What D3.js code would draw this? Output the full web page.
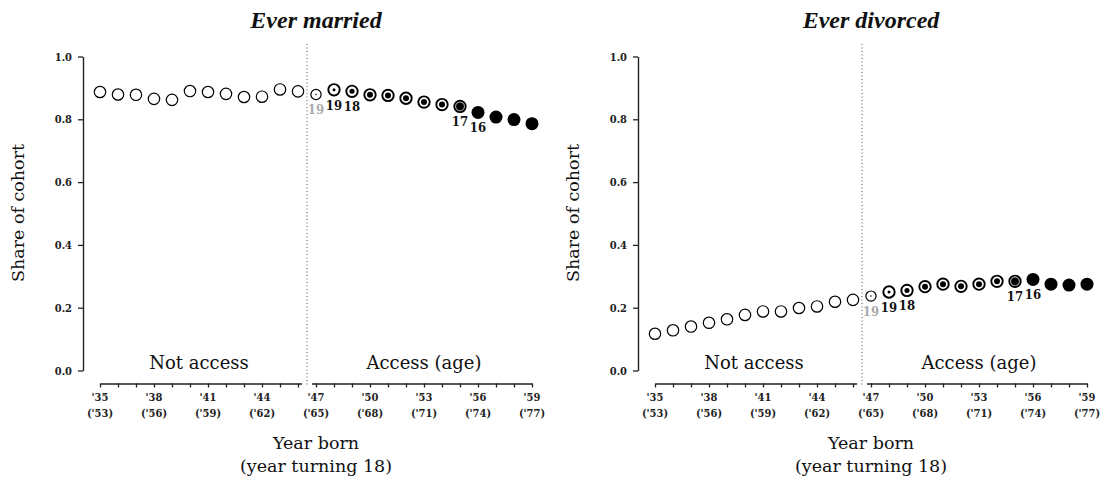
<!DOCTYPE html>
<html>
<head>
<meta charset="utf-8">
<script src="https://cdn.jsdelivr.net/npm/d3@7"></script>
<style>
  html, body { margin: 0; padding: 0; background: #fff; }
  svg { display: block; }
</style>
</head>
<body>
<svg id="chart" width="1104" height="488"></svg>
<script>
// Birth cohorts 1935–1959
const years = [1935, 1936, 1937, 1938, 1939, 1940, 1941, 1942, 1943, 1944, 1945, 1946,
               1947, 1948, 1949, 1950, 1951, 1952, 1953, 1954, 1955, 1956, 1957, 1958, 1959];

// Share of each cohort ever married
const everMarried = [0.887, 0.879, 0.878, 0.865, 0.862, 0.890, 0.887, 0.881, 0.871, 0.872, 0.895, 0.889,
                     0.879, 0.894, 0.889, 0.878, 0.876, 0.867, 0.855, 0.847, 0.841, 0.822, 0.807, 0.799, 0.786];

// Share of each cohort ever divorced
const everDivorced = [0.117, 0.128, 0.140, 0.152, 0.163, 0.177, 0.188, 0.188, 0.199, 0.204, 0.219, 0.225,
                      0.237, 0.250, 0.255, 0.267, 0.275, 0.268, 0.275, 0.284, 0.284, 0.290, 0.275, 0.272, 0.275];

// Degree of access for each cohort (0 = none, 1 = full access by 16)
const accessLevel = [0, 0, 0, 0, 0, 0, 0, 0, 0, 0, 0, 0,
                     0.12, 0.25, 0.42, 0.5, 0.5, 0.5, 0.5, 0.5, 0.68, 1, 1, 1, 1];

// Age of access noted beside selected cohorts
const ageLabels = [null, null, null, null, null, null, null, null, null, null, null, null,
                   "19", "19", "18", null, null, null, null, null, "17", "16", null, null, null];

const tickYears = [1935, 1938, 1941, 1944, 1947, 1950, 1953, 1956, 1959];
const tickBorn = ["'35", "'38", "'41", "'44", "'47", "'50", "'53", "'56", "'59"];
const tickTurning = ["('53)", "('56)", "('59)", "('62)", "('65)", "('68)", "('71)", "('74)", "('77)"];
const yTicks = [0, 0.2, 0.4, 0.6, 0.8, 1.0];

const panels = [
  { title: "Ever married", values: everMarried, offset: 0 },
  { title: "Ever divorced", values: everDivorced, offset: 555 }
];

const SERIF = "'DejaVu Serif', serif";
const SERIF_C = "'DejaVu Serif Condensed', 'DejaVu Serif', serif";
const TITLE_FONT = "'Liberation Serif', serif";

const svg = d3.select("#chart");

panels.forEach(p => {
  const g = svg.append("g").attr("transform", `translate(${p.offset},0)`);

  const x = d3.scaleLinear().domain([1934, 1960]).range([82, 550]);
  const y = d3.scaleLinear().domain([0, 1]).range([370.5, 56.5]);
  const axisY = 383.5;

  // Title
  g.append("text")
    .attr("x", x(1947)).attr("y", 28)
    .attr("text-anchor", "middle")
    .style("font-family", TITLE_FONT)
    .style("font-weight", "bold").style("font-style", "italic")
    .style("font-size", "24px").attr("fill", "#111")
    .text(p.title);

  // Y axis
  const yAxis = d3.axisLeft(y).tickValues(yTicks).tickFormat(d3.format(".1f"))
    .tickSize(5).tickSizeOuter(0).tickPadding(6);
  const gy = g.append("g").attr("transform", "translate(83,0)").call(yAxis);
  gy.select(".domain").attr("stroke", "#222").attr("stroke-width", 1.4);
  gy.selectAll(".tick line").attr("stroke", "#222").attr("stroke-width", 1.3);
  gy.selectAll(".tick text")
    .style("font-family", SERIF_C).style("font-weight", "bold")
    .style("font-size", "11px").attr("fill", "#222");

  // Y axis title
  g.append("text")
    .attr("transform", `translate(18,213) rotate(-90)`)
    .attr("text-anchor", "middle").attr("dy", "0.35em")
    .style("font-family", SERIF).style("font-size", "17.5px").attr("fill", "#111")
    .text("Share of cohort");

  // X axis in two pieces, split at the start of access
  const segments = [
    { from: 1935, to: 1946.2, ticks: d3.range(1935, 1947) },
    { from: 1946.75, to: 1959, ticks: d3.range(1947, 1960) }
  ];
  segments.forEach(s => {
    const xs = x.copy().domain([s.from, s.to]).range([x(s.from), x(s.to)]);
    const ax = d3.axisBottom(xs).tickValues(s.ticks).tickFormat("")
      .tickSize(4).tickSizeOuter(0);
    const gx = g.append("g").attr("transform", `translate(0,${axisY})`).call(ax);
    gx.select(".domain").attr("stroke", "#222").attr("stroke-width", 1.4);
    gx.selectAll(".tick line").attr("stroke", "#222").attr("stroke-width", 1.3);
  });

  // Tick labels: birth year and year turning 18
  const tl = g.append("g");
  tl.selectAll("text.born").data(tickYears).join("text")
    .attr("class", "born")
    .attr("x", d => x(d)).attr("y", 401)
    .attr("text-anchor", "middle")
    .style("font-family", SERIF_C).style("font-weight", "bold")
    .style("font-size", "11px").attr("fill", "#222")
    .text((d, i) => tickBorn[i]);
  tl.selectAll("text.turn").data(tickYears).join("text")
    .attr("class", "turn")
    .attr("x", d => x(d)).attr("y", 417)
    .attr("text-anchor", "middle")
    .style("font-family", SERIF_C).style("font-weight", "bold")
    .style("font-size", "11px").attr("fill", "#222")
    .text((d, i) => tickTurning[i]);

  // X axis title
  g.append("text")
    .attr("x", x(1947)).attr("y", 449)
    .attr("text-anchor", "middle")
    .style("font-family", SERIF).style("font-size", "17.5px").attr("fill", "#111")
    .text("Year born");
  g.append("text")
    .attr("x", x(1947)).attr("y", 472)
    .attr("text-anchor", "middle")
    .style("font-family", SERIF).style("font-size", "17.5px").attr("fill", "#111")
    .text("(year turning 18)");

  // Boundary between cohorts without and with access
  g.append("line")
    .attr("x1", x(1946.5)).attr("x2", x(1946.5))
    .attr("y1", 44).attr("y2", 387)
    .attr("stroke", "#555").attr("stroke-width", 1)
    .attr("stroke-dasharray", "1,2.5");

  // Region labels
  g.append("text")
    .attr("x", x(1940.5)).attr("y", 369)
    .attr("text-anchor", "middle")
    .style("font-family", SERIF).style("font-size", "18px").attr("fill", "#111")
    .text("Not access");
  g.append("text")
    .attr("x", x(1953)).attr("y", 369)
    .attr("text-anchor", "middle")
    .style("font-family", SERIF).style("font-size", "18px").attr("fill", "#111")
    .text("Access (age)");

  // Points
  const data = years.map((yr, i) => ({ yr, v: p.values[i], lvl: accessLevel[i], lab: ageLabels[i] }));
  const pts = g.append("g").selectAll("g.pt").data(data).join("g")
    .attr("class", "pt")
    .attr("transform", d => `translate(${x(d.yr)},${y(d.v)})`);

  pts.append("circle")
    .attr("r", d => d.lvl >= 1 ? 6.5 : (d.lvl > 0 && d.lvl < 0.2 ? 5.1 : 5.7))
    .attr("fill", d => d.lvl >= 1 ? "#000" : "#fff")
    .attr("stroke", "#000")
    .attr("stroke-width", d => d.lvl >= 1 ? 0 : (d.lvl < 0.2 ? 1.2 : 1.9));

  pts.filter(d => d.lvl > 0 && d.lvl < 1).append("circle")
    .attr("r", d => d.lvl * 6)
    .attr("fill", "#000");

  // Ring of mid grey for the cohort with nearly full access
  pts.filter(d => d.lvl > 0.6 && d.lvl < 1).append("circle")
    .attr("r", 4.3)
    .attr("fill", "none")
    .attr("stroke", "#888").attr("stroke-width", 0.8);

  // Age labels under points
  g.append("g").selectAll("text").data(data.filter(d => d.lab)).join("text")
    .attr("x", d => x(d.yr)).attr("y", d => y(d.v) + 20)
    .attr("text-anchor", "middle")
    .style("font-family", SERIF_C).style("font-weight", "bold")
    .style("font-size", "13px")
    .attr("fill", d => d.lvl < 0.2 ? "#aaa" : "#111")
    .text(d => d.lab);
});
</script>
</body>
</html>
